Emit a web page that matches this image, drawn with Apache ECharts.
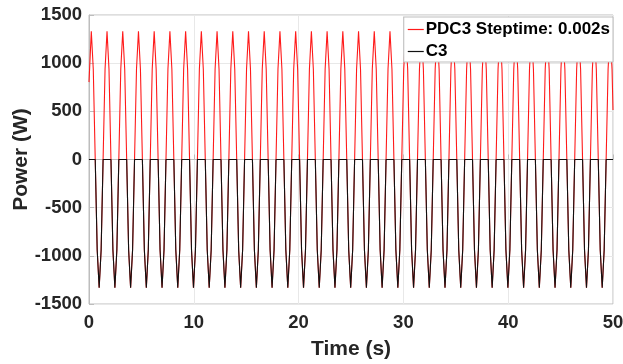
<!DOCTYPE html>
<html>
<head>
<meta charset="utf-8">
<script src="https://cdn.jsdelivr.net/npm/echarts@6/dist/echarts.min.js"></script>
<style>html,body{margin:0;padding:0;background:#fff}#c{width:623px;height:364px}</style>
</head>
<body>
<div id="c"></div>
<script>
// Sample times (s): 8 samples per 1.5 s cycle, starting at each peak
const timeS = [0,
 0.22,0.4075,0.595,0.7825,0.97,1.1575,1.345,1.5325,
 1.72,1.9075,2.095,2.2825,2.47,2.6575,2.845,3.0325,
 3.22,3.4075,3.595,3.7825,3.97,4.1575,4.345,4.5325,
 4.72,4.9075,5.095,5.2825,5.47,5.6575,5.845,6.0325,
 6.22,6.4075,6.595,6.7825,6.97,7.1575,7.345,7.5325,
 7.72,7.9075,8.095,8.2825,8.47,8.6575,8.845,9.0325,
 9.22,9.4075,9.595,9.7825,9.97,10.1575,10.345,10.5325,
 10.72,10.9075,11.095,11.2825,11.47,11.6575,11.845,12.0325,
 12.22,12.4075,12.595,12.7825,12.97,13.1575,13.345,13.5325,
 13.72,13.9075,14.095,14.2825,14.47,14.6575,14.845,15.0325,
 15.22,15.4075,15.595,15.7825,15.97,16.1575,16.345,16.5325,
 16.72,16.9075,17.095,17.2825,17.47,17.6575,17.845,18.0325,
 18.22,18.4075,18.595,18.7825,18.97,19.1575,19.345,19.5325,
 19.72,19.9075,20.095,20.2825,20.47,20.6575,20.845,21.0325,
 21.22,21.4075,21.595,21.7825,21.97,22.1575,22.345,22.5325,
 22.72,22.9075,23.095,23.2825,23.47,23.6575,23.845,24.0325,
 24.22,24.4075,24.595,24.7825,24.97,25.1575,25.345,25.5325,
 25.72,25.9075,26.095,26.2825,26.47,26.6575,26.845,27.0325,
 27.22,27.4075,27.595,27.7825,27.97,28.1575,28.345,28.5325,
 28.72,28.9075,29.095,29.2825,29.47,29.6575,29.845,30.0325,
 30.22,30.4075,30.595,30.7825,30.97,31.1575,31.345,31.5325,
 31.72,31.9075,32.095,32.2825,32.47,32.6575,32.845,33.0325,
 33.22,33.4075,33.595,33.7825,33.97,34.1575,34.345,34.5325,
 34.72,34.9075,35.095,35.2825,35.47,35.6575,35.845,36.0325,
 36.22,36.4075,36.595,36.7825,36.97,37.1575,37.345,37.5325,
 37.72,37.9075,38.095,38.2825,38.47,38.6575,38.845,39.0325,
 39.22,39.4075,39.595,39.7825,39.97,40.1575,40.345,40.5325,
 40.72,40.9075,41.095,41.2825,41.47,41.6575,41.845,42.0325,
 42.22,42.4075,42.595,42.7825,42.97,43.1575,43.345,43.5325,
 43.72,43.9075,44.095,44.2825,44.47,44.6575,44.845,45.0325,
 45.22,45.4075,45.595,45.7825,45.97,46.1575,46.345,46.5325,
 46.72,46.9075,47.095,47.2825,47.47,47.6575,47.845,48.0325,
 48.22,48.4075,48.595,48.7825,48.97,49.1575,49.345,49.5325,
 49.72,49.9075,50];

// PDC3 power (W) at those times
const pdc3W = [803,
 1330,940,0,-940,-1330,-940,0,940,
 1330,940,0,-940,-1330,-940,0,940,
 1330,940,0,-940,-1330,-940,0,940,
 1330,940,0,-940,-1330,-940,0,940,
 1330,940,0,-940,-1330,-940,0,940,
 1330,940,0,-940,-1330,-940,0,940,
 1330,940,0,-940,-1330,-940,0,940,
 1330,940,0,-940,-1330,-940,0,940,
 1330,940,0,-940,-1330,-940,0,940,
 1330,940,0,-940,-1330,-940,0,940,
 1330,940,0,-940,-1330,-940,0,940,
 1330,940,0,-940,-1330,-940,0,940,
 1330,940,0,-940,-1330,-940,0,940,
 1330,940,0,-940,-1330,-940,0,940,
 1330,940,0,-940,-1330,-940,0,940,
 1330,940,0,-940,-1330,-940,0,940,
 1330,940,0,-940,-1330,-940,0,940,
 1330,940,0,-940,-1330,-940,0,940,
 1330,940,0,-940,-1330,-940,0,940,
 1330,940,0,-940,-1330,-940,0,940,
 1330,940,0,-940,-1330,-940,0,940,
 1330,940,0,-940,-1330,-940,0,940,
 1330,940,0,-940,-1330,-940,0,940,
 1330,940,0,-940,-1330,-940,0,940,
 1330,940,0,-940,-1330,-940,0,940,
 1330,940,0,-940,-1330,-940,0,940,
 1330,940,0,-940,-1330,-940,0,940,
 1330,940,0,-940,-1330,-940,0,940,
 1330,940,0,-940,-1330,-940,0,940,
 1330,940,0,-940,-1330,-940,0,940,
 1330,940,0,-940,-1330,-940,0,940,
 1330,940,0,-940,-1330,-940,0,940,
 1330,940,0,-940,-1330,-940,0,940,
 1330,940,515];

// C3 power (W) at those times
const c3W = [0,
 0,0,0,-940,-1330,-940,0,0,
 0,0,0,-940,-1330,-940,0,0,
 0,0,0,-940,-1330,-940,0,0,
 0,0,0,-940,-1330,-940,0,0,
 0,0,0,-940,-1330,-940,0,0,
 0,0,0,-940,-1330,-940,0,0,
 0,0,0,-940,-1330,-940,0,0,
 0,0,0,-940,-1330,-940,0,0,
 0,0,0,-940,-1330,-940,0,0,
 0,0,0,-940,-1330,-940,0,0,
 0,0,0,-940,-1330,-940,0,0,
 0,0,0,-940,-1330,-940,0,0,
 0,0,0,-940,-1330,-940,0,0,
 0,0,0,-940,-1330,-940,0,0,
 0,0,0,-940,-1330,-940,0,0,
 0,0,0,-940,-1330,-940,0,0,
 0,0,0,-940,-1330,-940,0,0,
 0,0,0,-940,-1330,-940,0,0,
 0,0,0,-940,-1330,-940,0,0,
 0,0,0,-940,-1330,-940,0,0,
 0,0,0,-940,-1330,-940,0,0,
 0,0,0,-940,-1330,-940,0,0,
 0,0,0,-940,-1330,-940,0,0,
 0,0,0,-940,-1330,-940,0,0,
 0,0,0,-940,-1330,-940,0,0,
 0,0,0,-940,-1330,-940,0,0,
 0,0,0,-940,-1330,-940,0,0,
 0,0,0,-940,-1330,-940,0,0,
 0,0,0,-940,-1330,-940,0,0,
 0,0,0,-940,-1330,-940,0,0,
 0,0,0,-940,-1330,-940,0,0,
 0,0,0,-940,-1330,-940,0,0,
 0,0,0,-940,-1330,-940,0,0,
 0,0,0];

const seriesNames = ['PDC3 Steptime: 0.002s', 'C3'];
const xTicks = [0, 10, 20, 30, 40, 50];
const yTicks = [-1500, -1000, -500, 0, 500, 1000, 1500];

const FONT = '"Liberation Sans", Arial, sans-serif';
const chart = echarts.init(document.getElementById('c'), null, {renderer: 'canvas'});
const pairs = arr => timeS.map((t, i) => [t, arr[i]]);

chart.setOption({
  animation: false,
  backgroundColor: '#ffffff',
  grid: {left: 89, right: 10, top: 15, bottom: 60, containLabel: false, outerBoundsMode: 'none',
         show: true, borderColor: '#bdbdbd', borderWidth: 1, backgroundColor: 'transparent'},
  legend: {
    data: seriesNames,
    orient: 'vertical',
    right: 10, top: 17,
    backgroundColor: '#ffffff',
    borderColor: '#bdbdbd', borderWidth: 1,
    padding: [4, 3, 2, 4],
    itemGap: 5,
    itemWidth: 16, itemHeight: 1.2,
    icon: 'rect',
    textStyle: {fontFamily: FONT, fontWeight: 'bold', fontSize: 17, color: '#000', padding: [0, 0, 0, -3]}
  },
  xAxis: {
    type: 'value', min: xTicks[0], max: xTicks[xTicks.length - 1], interval: 10,
    name: 'Time (s)', nameLocation: 'middle', nameGap: 35, nameMoveOverlap: false,
    nameTextStyle: {fontFamily: FONT, fontWeight: 'bold', fontSize: 21, color: '#262626'},
    axisLine: {show: true, lineStyle: {color: '#bdbdbd', width: 1}},
    axisTick: {show: true, inside: true, length: 5, lineStyle: {color: '#bdbdbd'}},
    axisLabel: {fontFamily: FONT, fontWeight: 'bold', fontSize: 18.5, color: '#262626', margin: 9,
                formatter: v => String(v)},
    splitLine: {show: true, lineStyle: {color: '#e8e8e8', width: 1}}
  },
  yAxis: {
    type: 'value', min: yTicks[0], max: yTicks[yTicks.length - 1], interval: 500,
    name: 'Power (W)', nameLocation: 'middle', nameGap: 57, nameMoveOverlap: false,
    nameTextStyle: {fontFamily: FONT, fontWeight: 'bold', fontSize: 21, color: '#262626'},
    axisLine: {show: true, lineStyle: {color: '#bdbdbd', width: 1}},
    axisTick: {show: true, inside: true, length: 5, lineStyle: {color: '#bdbdbd'}},
    axisLabel: {fontFamily: FONT, fontWeight: 'bold', fontSize: 18.5, color: '#262626', margin: 7,
                padding: [5, 0, 0, 0], formatter: v => String(v)},
    splitLine: {show: true, lineStyle: {color: '#e8e8e8', width: 1}}
  },
  series: [
    {name: seriesNames[0], type: 'line', data: pairs(pdc3W), smooth: false, showSymbol: false,
     lineStyle: {color: '#ff1a1a', width: 1.1}, itemStyle: {color: '#ff1a1a'}, z: 2},
    {name: seriesNames[1], type: 'line', data: pairs(c3W), smooth: false, showSymbol: false,
     lineStyle: {color: '#111111', width: 1.1}, itemStyle: {color: '#111111'}, z: 3}
  ]
});
</script>
</body>
</html>
